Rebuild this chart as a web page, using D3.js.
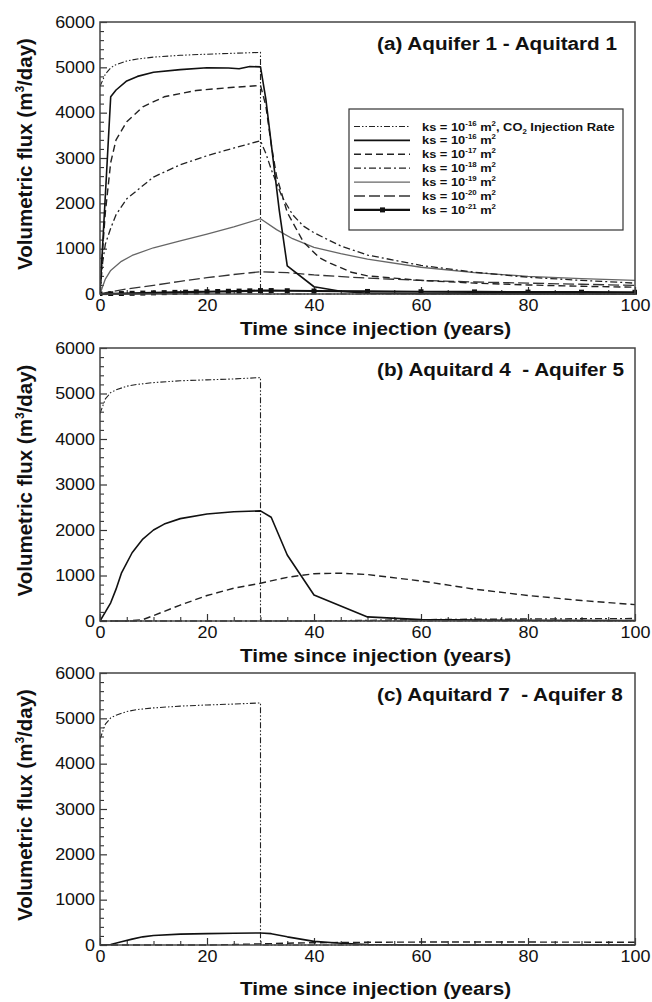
<!DOCTYPE html>
<html>
<head>
<meta charset="utf-8">
<script src="https://cdn.jsdelivr.net/npm/d3@7"></script>
<style>
  body { margin: 0; background: #fff; }
  svg text { font-family: "Liberation Sans", Arial, Helvetica, sans-serif; fill: #111; white-space: pre; }
</style>
</head>
<body>
<svg id="chart" width="652" height="1002"></svg>
<script>
// ---- data: [years since injection, volumetric flux (m3/day)] ----
const injectionA = [[0,4580],[1,4850],[2,4990],[3,5060],[5,5140],[7,5185],[10,5225],[15,5265],[20,5290],[25,5310],[30,5330],[30,0],[100,0]];
const injectionB = [[0,4560],[1,4880],[2,5020],[3,5080],[5,5160],[7,5200],[10,5240],[15,5280],[20,5300],[25,5320],[30,5350],[30,0],[100,0]];
const injectionC = [[0,4540],[1,4870],[2,5010],[3,5070],[5,5150],[7,5195],[10,5230],[15,5270],[20,5295],[25,5315],[30,5340],[30,0],[100,0]];

const ks16A = [[0,0],[2,4350],[3,4500],[5,4700],[7,4800],[10,4890],[15,4950],[20,4990],[24,4985],[26,4970],[28,5020],[30,5010],[31,4300],[33.5,1850],[35,620],[40,160],[45,60],[50,15],[60,5],[100,0]];
const ks17A = [[0,0],[0.5,1000],[1,1800],[2,2900],[3,3400],[5,3800],[8,4130],[12,4350],[18,4490],[25,4560],[30,4600],[31,4150],[32,3300],[33,2600],[35,1800],[38,1150],[41,800],[43,680],[47,480],[50,400],[60,300],[70,240],[80,200],[90,170],[100,150]];
const ks18A = [[0,0],[0.5,700],[1,1100],[2,1450],[3,1750],[5,2100],[10,2580],[15,2850],[20,3050],[25,3220],[30,3380],[31,3100],[32,2750],[34,2150],[36,1750],[38,1500],[40,1350],[45,1060],[50,860],[60,630],[70,480],[80,370],[90,300],[100,240]];
const ks19A = [[0,0],[1,330],[2,520],[4,720],[6,850],[10,1020],[15,1170],[20,1320],[25,1480],[30,1660],[33,1420],[36,1220],[40,1030],[45,890],[50,770],[60,590],[70,470],[80,390],[90,340],[100,300]];
const ks20A = [[0,0],[2,50],[5,110],[10,190],[15,280],[20,360],[25,430],[30,490],[35,470],[40,420],[50,350],[60,300],[70,265],[80,240],[90,215],[100,190]];
const ks21A = [[0,0],[2,5],[4,10],[6,15],[8,20],[10,25],[12,30],[14,36],[16,40],[18,46],[20,50],[22,55],[24,60],[26,64],[28,70],[30,75],[32,76],[35,72],[40,66],[50,56],[60,50],[70,46],[80,42],[90,40],[100,38]];

const ks16B = [[0,0],[2,400],[3,700],[4,1050],[6,1500],[8,1800],[10,2000],[12,2130],[15,2250],[20,2350],[25,2400],[30,2420],[32,2280],[35,1450],[40,570],[50,90],[60,30],[80,15],[100,10]];
const ks17B = [[0,0],[5,0],[8,30],[10,120],[15,350],[20,560],[25,720],[30,830],[35,960],[40,1040],[45,1050],[50,1020],[60,880],[70,700],[80,560],[90,450],[100,360]];
const ks18B = [[0,0],[40,0],[50,15],[60,30],[70,40],[80,45],[90,50],[100,55]];

const ks16C = [[0,0],[2,10],[4,70],[6,130],[8,180],[10,210],[15,240],[20,250],[25,260],[30,265],[32,250],[35,180],[40,80],[45,40],[50,10],[60,0],[100,0]];
const ks17C = [[0,0],[20,0],[25,10],[30,25],[35,40],[40,50],[50,60],[60,65],[80,65],[100,60]];

const xTicks = [0, 20, 40, 60, 80, 100];
const yTicks = [0, 1000, 2000, 3000, 4000, 5000, 6000];
const panelTitles = ["(a) Aquifer 1 - Aquitard 1", "(b) Aquitard 4  - Aquifer 5", "(c) Aquitard 7  - Aquifer 8"];
const legendExponents = ["-16", "-16", "-17", "-18", "-19", "-20", "-21"];

// ---- line styles per permeability case ----
const styles = {
  inj:  { dash: "6,2,1.5,2,1.5,2", width: 1.1, color: "#222" },
  k16:  { dash: null,              width: 1.6, color: "#111" },
  k17:  { dash: "7,4",             width: 1.4, color: "#222" },
  k18:  { dash: "7,3,2,3",         width: 1.3, color: "#222" },
  k19:  { dash: null,              width: 1.3, color: "#666" },
  k20:  { dash: "11,4",            width: 1.3, color: "#333" },
  k21:  { dash: null,              width: 2.2, color: "#111", marker: true }
};

const panels = [
  { title: panelTitles[0], top: 22,  bottom: 294, xlabelY: 334.5,
    series: [["inj", injectionA], ["k20", ks20A], ["k19", ks19A], ["k18", ks18A], ["k17", ks17A], ["k16", ks16A], ["k21", ks21A]], legend: true },
  { title: panelTitles[1], top: 348, bottom: 621, xlabelY: 661.5,
    series: [["inj", injectionB], ["k18", ks18B], ["k17", ks17B], ["k16", ks16B]] },
  { title: panelTitles[2], top: 673, bottom: 945, xlabelY: 994.5,
    series: [["inj", injectionC], ["k17", ks17C], ["k16", ks16C]] }
];

const svg = d3.select("#chart");
const left = 100, right = 635;
const SX = 1.12; // horizontal glyph stretch

const x = d3.scaleLinear().domain([0, 100]).range([left, right]);

panels.forEach((p, pi) => {
  const y = d3.scaleLinear().domain([0, 6000]).range([p.bottom, p.top]);
  const g = svg.append("g");

  // minor ticks
  g.append("g").attr("transform", `translate(0,${p.bottom})`)
    .call(d3.axisBottom(x).tickValues(d3.range(5, 100, 5).filter(v => v % 20 !== 0)).tickSize(-4).tickFormat(""))
    .call(a => a.select(".domain").remove())
    .selectAll("line").attr("stroke", "#333").attr("stroke-width", 1.1);
  g.append("g").attr("transform", `translate(${left},0)`)
    .call(d3.axisLeft(y).tickValues(d3.range(200, 6000, 200).filter(v => v % 1000 !== 0)).tickSize(-4).tickFormat(""))
    .call(a => a.select(".domain").remove())
    .selectAll("line").attr("stroke", "#333").attr("stroke-width", 1.1);

  // major ticks + labels
  const xa = g.append("g").attr("transform", `translate(0,${p.bottom})`)
    .call(d3.axisBottom(x).tickValues(xTicks).tickSize(-7).tickPadding(6).tickFormat(d3.format("d")));
  xa.select(".domain").remove();
  xa.selectAll("line").attr("stroke", "#333").attr("stroke-width", 1.2);
  xa.selectAll("text").attr("font-size", 16).attr("fill", "#111")
    .attr("transform", `scale(${SX},1)`);

  const ya = g.append("g").attr("transform", `translate(${left},0)`)
    .call(d3.axisLeft(y).tickValues(yTicks).tickSize(-7).tickPadding(4.5).tickFormat(d3.format("d")));
  ya.select(".domain").remove();
  ya.selectAll("line").attr("stroke", "#333").attr("stroke-width", 1.2);
  ya.selectAll("text").attr("font-size", 16).attr("fill", "#111")
    .attr("transform", `scale(${SX},1)`);

  // series
  const line = d3.line().x(d => x(d[0])).y(d => y(d[1]));
  const clipId = "clip" + pi;
  svg.append("clipPath").attr("id", clipId).append("rect")
    .attr("x", left).attr("y", p.top - 2).attr("width", right - left + 2).attr("height", p.bottom - p.top + 4);
  const plot = g.append("g").attr("clip-path", `url(#${clipId})`);
  p.series.forEach(([key, data]) => {
    const s = styles[key];
    plot.append("path").datum(data)
      .attr("d", line).attr("fill", "none")
      .attr("stroke", s.color).attr("stroke-width", s.width)
      .attr("stroke-dasharray", s.dash).attr("stroke-linejoin", "round");
    if (s.marker) {
      plot.selectAll(null).data(data).join("rect")
        .attr("x", d => x(d[0]) - 2.5).attr("y", d => y(d[1]) - 2.5)
        .attr("width", 5).attr("height", 5).attr("fill", s.color);
    }
  });

  // frame
  g.append("rect").attr("x", left).attr("y", p.top)
    .attr("width", right - left).attr("height", p.bottom - p.top)
    .attr("fill", "none").attr("stroke", "#444").attr("stroke-width", 1.5);

  // panel title
  g.append("text").attr("transform", `translate(377,${p.top + 27.5}) scale(${SX},1)`)
    .attr("font-size", 18.5).attr("font-weight", "bold").text(p.title);

  // axis titles
  g.append("text").attr("transform", `translate(${(left + right) / 2 + 8},${p.xlabelY}) scale(${SX},1)`)
    .attr("text-anchor", "middle").attr("font-size", 18.5).attr("font-weight", "bold")
    .text("Time since injection (years)");

  const yl = g.append("text")
    .attr("transform", `translate(32,${(p.top + p.bottom) / 2 - 4}) rotate(-90)`)
    .attr("text-anchor", "middle").attr("font-size", 20.5).attr("font-weight", "bold");
  yl.append("tspan").text("Volumetric flux (m");
  yl.append("tspan").attr("font-size", 12).attr("dy", -8).text("3");
  yl.append("tspan").attr("dy", 8).text("/day)");

  // legend
  if (p.legend) {
    const lg = g.append("g");
    lg.append("rect").attr("x", 349).attr("y", 109).attr("width", 274).attr("height", 121)
      .attr("fill", "#fff").attr("stroke", "#333").attr("stroke-width", 1.2);
    const keys = ["inj", "k16", "k17", "k18", "k19", "k20", "k21"];
    keys.forEach((k, i) => {
      const s = styles[k];
      const ry = 126.5 + i * 13.9;
      lg.append("line").attr("x1", 354).attr("x2", 410).attr("y1", ry).attr("y2", ry)
        .attr("stroke", s.color).attr("stroke-width", s.width).attr("stroke-dasharray", s.dash);
      if (s.marker) {
        lg.append("rect").attr("x", 380).attr("y", ry - 2.5).attr("width", 5).attr("height", 5).attr("fill", s.color);
      }
      const t = lg.append("text").attr("transform", `translate(422,${ry + 4}) scale(${SX},1)`)
        .attr("font-size", 11.5).attr("font-weight", "bold");
      t.append("tspan").text("ks = 10");
      t.append("tspan").attr("font-size", 7).attr("dy", -5).text(legendExponents[i]);
      t.append("tspan").attr("dy", 5).text(" m");
      t.append("tspan").attr("font-size", 7).attr("dy", -5).text("2");
      if (k === "inj") {
        t.append("tspan").attr("dy", 5).text(", CO");
        t.append("tspan").attr("font-size", 7).attr("dy", 3).text("2");
        t.append("tspan").attr("dy", -3).text(" Injection Rate");
      }
    });
  }
});
</script>
</body>
</html>
